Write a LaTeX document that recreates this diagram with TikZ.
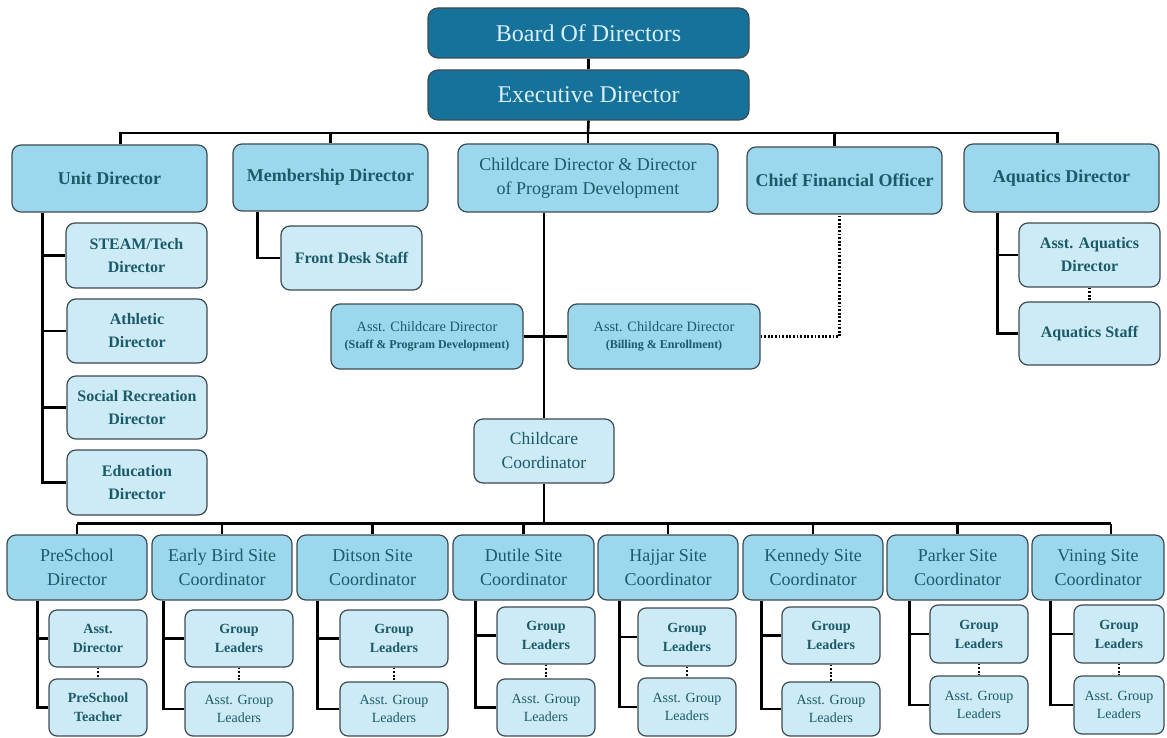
\documentclass[tikz,border=0pt]{standalone}
\usepackage{fontspec}
\setmainfont{Liberation Serif}
\definecolor{dk}{HTML}{15729A}
\definecolor{lt}{HTML}{DCEFF7}
\definecolor{mid}{HTML}{9DD7EE}
\definecolor{lite}{HTML}{CDEBF6}
\definecolor{txt}{HTML}{1A5A69}
\definecolor{bord}{HTML}{3D4B52}
\newcommand\bx[7]{\node[#6, minimum width={(#4-#2)*1pt}, minimum height={(#5-#3)*1pt}] (#1) at ({(#2+#4)/2},{(#3+#5)/2}) {#7};}
\newcommand\grp[4]{\coordinate (#1v) at ([xshift=#2pt]#1.south west);
  \draw[conn] (#1v) |- (#4.west);
  \draw[conn] (#1v |- #3.west) -- (#3.west);
  \draw[dotc] (#3.south) -- (#4.north);}
\begin{document}
\begin{tikzpicture}[x=1pt,y=-1pt,
  box/.style={draw=bord, line width=1.2pt, rounded corners=9pt, inner sep=0pt, align=center, text=txt},
  topbox/.style={box, fill=dk, text=lt, rounded corners=10pt, font=\fontsize{24}{28}\selectfont},
  midbox/.style={box, fill=mid, font=\fontsize{18}{24}\selectfont},
  midboxb/.style={box, fill=mid, font=\bfseries\fontsize{18}{24}\selectfont},
  acbox/.style={box, fill=mid, font=\fontsize{14.3}{17}\selectfont},
  ccbox/.style={box, fill=lite, font=\fontsize{17.5}{24}\selectfont},
  subbox/.style={box, fill=lite, font=\bfseries\fontsize{16}{23}\selectfont},
  smallb/.style={box, fill=lite, rounded corners=8pt, font=\bfseries\fontsize{14}{19}\selectfont},
  smallr/.style={box, fill=lite, rounded corners=8pt, font=\fontsize{14}{18}\selectfont},
  conn/.style={line width=2.6pt, black},
  dotc/.style={line width=2.4pt, black, dash pattern=on 1.8pt off 1.8pt}]
\useasboundingbox (0,0) rectangle (1167,738);
\fill[white] (0,0) rectangle (1167,738);
% top
\bx{BOD}{428}{8}{749}{58}{topbox}{Board Of Directors}
\bx{ED}{428}{70}{749}{120}{topbox}{Executive Director}
% level 2
\bx{UD}{12}{145}{207}{212}{midboxb}{Unit Director}
\bx{MD}{233}{144}{428}{211}{midboxb}{Membership Director}
\bx{CD}{458}{144}{718}{212}{midbox}{Childcare Director \& Director\\of Program Development}
\bx{CFO}{747}{147}{942}{214}{midboxb}{Chief Financial Officer}
\bx{AQD}{964}{144}{1159}{212}{midboxb}{Aquatics Director}
% unit children
\bx{STM}{66}{223}{207}{288}{subbox}{STEAM/Tech\\Director}
\bx{ATH}{67}{299}{207}{363}{subbox}{Athletic\\Director}
\bx{SOC}{67}{376}{207}{439}{subbox}{Social Recreation\\Director}
\bx{EDU}{67}{450}{207}{515}{subbox}{Education\\Director}
\bx{FDS}{281}{226}{422}{290}{subbox}{Front Desk Staff}
% childcare
\bx{ACS}{331}{304}{523}{369}{acbox}{Asst. Childcare Director\\{\bfseries\fontsize{12}{17}\selectfont (Staff \& Program Development)}}
\bx{ACB}{568}{304}{760}{369}{acbox}{Asst. Childcare Director\\{\bfseries\fontsize{12}{17}\selectfont (Billing \& Enrollment)}}
\bx{CC}{474}{419}{614}{483}{ccbox}{Childcare\\Coordinator}
% aquatics
\bx{AAD}{1019}{223}{1160}{287}{subbox}{Asst. Aquatics\\Director}
\bx{AQS}{1019}{302}{1160}{365}{subbox}{Aquatics Staff}
% bottom row
\bx{PSD}{7}{535}{147}{600}{midbox}{PreSchool\\Director}
\bx{EB}{152}{535}{292}{600}{midbox}{Early Bird Site\\Coordinator}
\bx{DIT}{297}{535}{448}{600}{midbox}{Ditson Site\\Coordinator}
\bx{DUT}{453}{535}{594}{600}{midbox}{Dutile Site\\Coordinator}
\bx{HAJ}{598}{535}{738}{600}{midbox}{Hajjar Site\\Coordinator}
\bx{KEN}{743}{535}{883}{600}{midbox}{Kennedy Site\\Coordinator}
\bx{PAR}{887}{535}{1028}{600}{midbox}{Parker Site\\Coordinator}
\bx{VIN}{1032}{535}{1164}{600}{midbox}{Vining Site\\Coordinator}
% bottom children
\bx{PSa}{49}{610}{147}{667}{smallb}{Asst.\\Director}
\bx{PSb}{49}{679}{147}{736}{smallb}{PreSchool\\Teacher}
\bx{EBa}{185}{610}{293}{667}{smallb}{Group\\Leaders}
\bx{EBb}{185}{682}{293}{736}{smallr}{Asst. Group\\Leaders}
\bx{DITa}{340}{610}{448}{667}{smallb}{Group\\Leaders}
\bx{DITb}{340}{682}{448}{736}{smallr}{Asst. Group\\Leaders}
\bx{DUTa}{497}{607}{595}{664}{smallb}{Group\\Leaders}
\bx{DUTb}{497}{679}{595}{736}{smallr}{Asst. Group\\Leaders}
\bx{HAJa}{638}{608}{736}{666}{smallb}{Group\\Leaders}
\bx{HAJb}{638}{678}{736}{736}{smallr}{Asst. Group\\Leaders}
\bx{KENa}{782}{607}{880}{664}{smallb}{Group\\Leaders}
\bx{KENb}{782}{682}{880}{736}{smallr}{Asst. Group\\Leaders}
\bx{PARa}{930}{605}{1028}{663}{smallb}{Group\\Leaders}
\bx{PARb}{930}{676}{1028}{734}{smallr}{Asst. Group\\Leaders}
\bx{VINa}{1074}{605}{1164}{663}{smallb}{Group\\Leaders}
\bx{VINb}{1074}{676}{1164}{734}{smallr}{Asst. Group\\Leaders}
% connectors top
\draw[conn] (BOD.south) -- (ED.north);
\coordinate (bus1) at (588,133);
\coordinate (udn) at ([xshift=11pt]UD.north);
\coordinate (aqn) at ([xshift=-4pt]AQD.north);
\coordinate (cfon) at ([xshift=-10pt]CFO.north);
\draw[conn] (ED.south) -- (bus1);
\draw[conn] (udn) -- (udn |- bus1) -- (aqn |- bus1) -- (aqn);
\draw[conn] (MD.north) -- (MD.north |- bus1);
\draw[conn] (CD.north) -- (CD.north |- bus1);
\draw[conn] (cfon) -- (cfon |- bus1);
% unit director
\coordinate (udv) at ([xshift=31pt]UD.south west);
\draw[conn] (udv) |- (EDU.west);
\draw[conn] (udv |- STM.west) -- (STM.west);
\draw[conn] (udv |- ATH.west) -- (ATH.west);
\draw[conn] (udv |- SOC.west) -- (SOC.west);
% membership
\draw[conn] ([xshift=25pt]MD.south west) |- (FDS.west);
% childcare
\coordinate (cdv) at (CD.south -| CC.north);
\draw[conn] (cdv) -- (CC.north);
\draw[conn] (ACS.east) -- (ACB.west);
\draw[dotc] (ACB.east) -| ([xshift=-5pt]CFO.south);
% aquatics
\coordinate (aqv) at ([xshift=34pt]AQD.south west);
\draw[conn] (aqv) |- (AQS.west);
\draw[conn] (aqv |- AAD.west) -- (AAD.west);
\draw[dotc] (AAD.south) -- (AQS.north);
% bottom bus
\coordinate (bus2) at ([yshift=-40pt]CC.south);
\coordinate (vinn) at ([xshift=13pt]VIN.north);
\draw[conn] (CC.south) -- (bus2);
\draw[conn] (PSD.north |- bus2) -- (vinn |- bus2);
\foreach \n in {PSD,EB,DIT,DUT,HAJ,KEN,PAR} {\draw[conn] (\n.north) -- (\n.north |- bus2);}
\draw[conn] (vinn) -- (vinn |- bus2);
% bottom groups
\grp{PSD}{31}{PSa}{PSb}
\grp{EB}{12}{EBa}{EBb}
\grp{DIT}{21}{DITa}{DITb}
\grp{DUT}{23}{DUTa}{DUTb}
\grp{HAJ}{22}{HAJa}{HAJb}
\grp{KEN}{19}{KENa}{KENb}
\grp{PAR}{23}{PARa}{PARb}
\grp{VIN}{19}{VINa}{VINb}
\end{tikzpicture}
\end{document}
